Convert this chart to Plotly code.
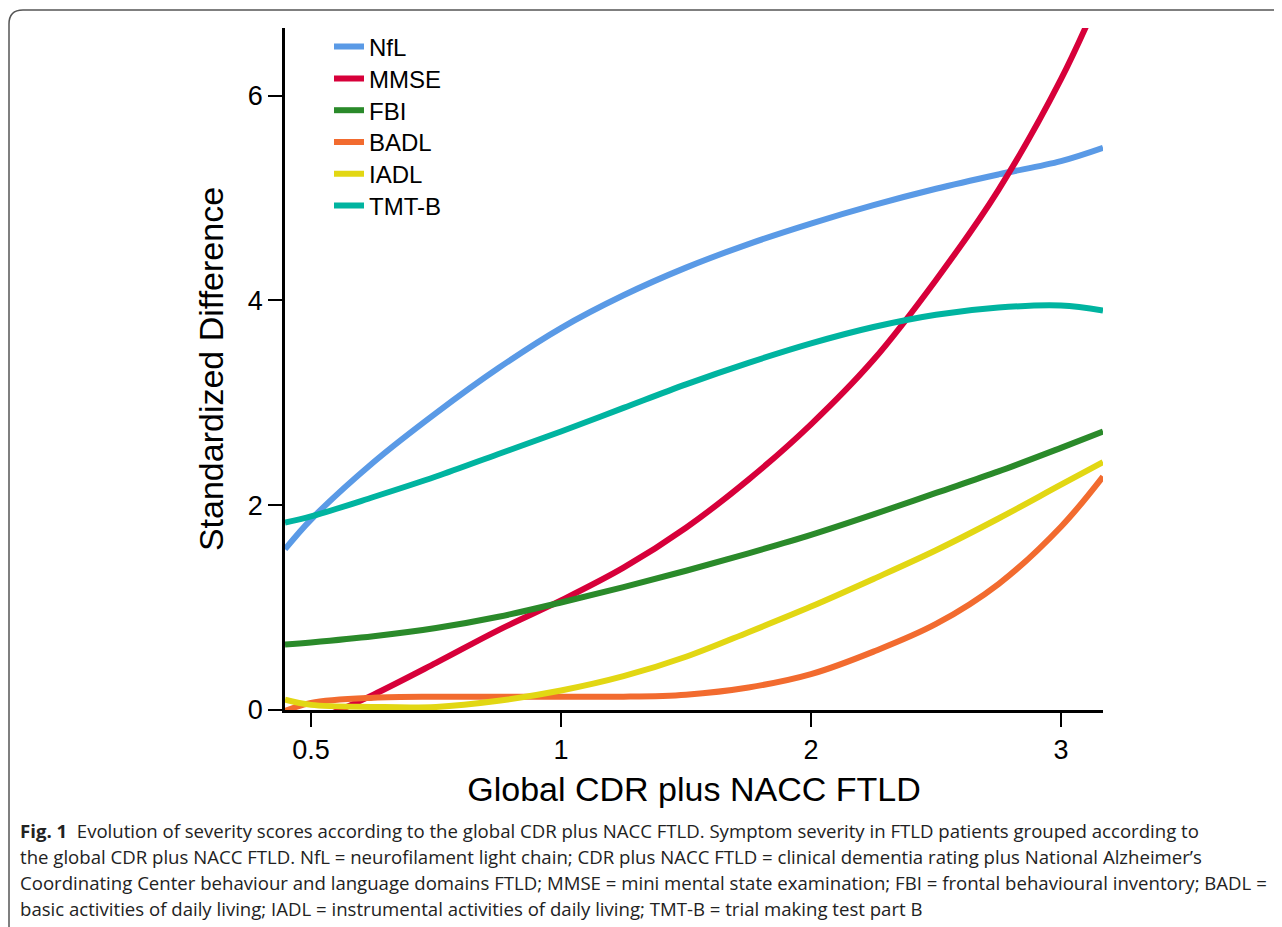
import plotly.graph_objects as go

# x positions on the (equally spaced) CDR axis: 0->0.5, 1->1, 2->2, 3->3
x_pos = [-0.104, 0.0, 0.25, 0.5, 0.75, 1.0, 1.25, 1.5, 1.75, 2.0, 2.25, 2.5, 2.75, 3.0, 3.168]
tick_vals = [0, 1, 2, 3]
tick_text = ["0.5", "1", "2", "3"]

series_names = ["NfL", "MMSE", "FBI", "BADL", "IADL", "TMT-B"]
nfl   = [1.57, 1.86, 2.42, 2.90, 3.34, 3.73, 4.05, 4.32, 4.55, 4.75, 4.93, 5.09, 5.23, 5.36, 5.49]
mmse  = [-0.27, -0.13, 0.15, 0.46, 0.78, 1.07, 1.39, 1.78, 2.25, 2.79, 3.42, 4.20, 5.08, 6.16, 7.05]
fbi   = [0.64, 0.66, 0.72, 0.80, 0.91, 1.05, 1.20, 1.36, 1.53, 1.71, 1.91, 2.12, 2.33, 2.56, 2.72]
badl  = [-0.01, 0.07, 0.12, 0.13, 0.13, 0.13, 0.13, 0.15, 0.22, 0.35, 0.57, 0.84, 1.23, 1.79, 2.28]
iadl  = [0.10, 0.05, 0.03, 0.03, 0.09, 0.19, 0.33, 0.52, 0.76, 1.01, 1.28, 1.56, 1.87, 2.20, 2.42]
tmtb  = [1.83, 1.89, 2.08, 2.28, 2.50, 2.72, 2.95, 3.18, 3.39, 3.58, 3.74, 3.86, 3.93, 3.95, 3.90]
series_values = [nfl, mmse, fbi, badl, iadl, tmtb]
colors = ["#5a9ae6", "#d7003a", "#2a8a2a", "#f26b2f", "#e2d713", "#00b4a0"]

caption_lines = [
    "<b>Fig. 1</b>  Evolution of severity scores according to the global CDR plus NACC FTLD. Symptom severity in FTLD patients grouped according to",
    "the global CDR plus NACC FTLD. NfL = neurofilament light chain; CDR plus NACC FTLD = clinical dementia rating plus National Alzheimer’s",
    "Coordinating Center behaviour and language domains FTLD; MMSE = mini mental state examination; FBI = frontal behavioural inventory; BADL =",
    "basic activities of daily living; IADL = instrumental activities of daily living; TMT-B = trial making test part B",
]

OFF = 8  # page body margin
W, H = 1282 - OFF, 927 - OFF
L, R, T, B = 285 - OFF, 1103 - OFF, 28 - OFF, 710 - OFF
pw, ph = R - L, B - T

def px(x):  # screen x -> paper
    return (x - OFF - L) / pw

def py(y):  # screen y -> paper
    return (B - (y - OFF)) / ph

font_main = "Liberation Sans, Arial, Helvetica, sans-serif"

fig = go.Figure()
legend_layout = {}
for i, (name, vals, col) in enumerate(zip(series_names, series_values, colors)):
    lg = "legend" if i == 0 else f"legend{i + 1}"
    fig.add_trace(go.Scatter(
        x=x_pos, y=vals, name=name, mode="lines", legend=lg,
        line=dict(color=col, width=6, shape="spline", smoothing=1.0),
    ))
    legend_layout[lg] = dict(x=px(329), y=py(47 + 31.8 * i), xanchor="left", yanchor="middle",
                             font=dict(size=24, family=font_main), bgcolor="rgba(0,0,0,0)",
                             itemwidth=30)

fig.update_layout(
    width=W, height=H,
    margin=dict(l=L, r=W - R, t=T, b=H - B, autoexpand=False),
    plot_bgcolor="white", paper_bgcolor="white",
    font=dict(family=font_main, color="black"),
    showlegend=True,
    xaxis=dict(range=[-0.104, 3.168], tickvals=tick_vals, ticktext=tick_text,
               showgrid=False, zeroline=False, showline=True, linecolor="black", linewidth=2.5,
               ticks="outside", ticklen=14, tickwidth=2, tickcolor="black",
               tickfont=dict(size=27), fixedrange=True,
               title=dict(text="Global CDR plus NACC FTLD", font=dict(size=34), standoff=14)),
    yaxis=dict(range=[0, 6.66], tickvals=[0, 2, 4, 6],
               showgrid=False, zeroline=False, showline=True, linecolor="black", linewidth=2.5,
               ticks="outside", ticklen=14, tickwidth=2, tickcolor="black",
               tickfont=dict(size=27), fixedrange=True,
               title=dict(text="Standardized Difference", font=dict(size=34), standoff=14)),
    **legend_layout,
)

# frame around the figure (rounded top-left corner; extends beyond right and bottom)
r = 14
x0, y0 = 9, 10
x1, y1 = 1300, 940
path = (f"M {px(x0)},{py(y1)} L {px(x0)},{py(y0 + r)} "
        f"Q {px(x0)},{py(y0)} {px(x0 + r)},{py(y0)} L {px(x1)},{py(y0)}")
fig.add_shape(type="path", xref="paper", yref="paper", path=path,
              line=dict(color="#555555", width=1.5), layer="below")

cap_font = "Open Sans, Noto Sans, sans-serif"
for i, line in enumerate(caption_lines):
    fig.add_annotation(text=line, xref="paper", yref="paper",
                       x=px(18), y=py(830 + 26 * i), xanchor="left", yanchor="middle",
                       showarrow=False, align="left",
                       font=dict(size=18.6, family=cap_font, color="#222222"))

fig.write_html("out.html")
